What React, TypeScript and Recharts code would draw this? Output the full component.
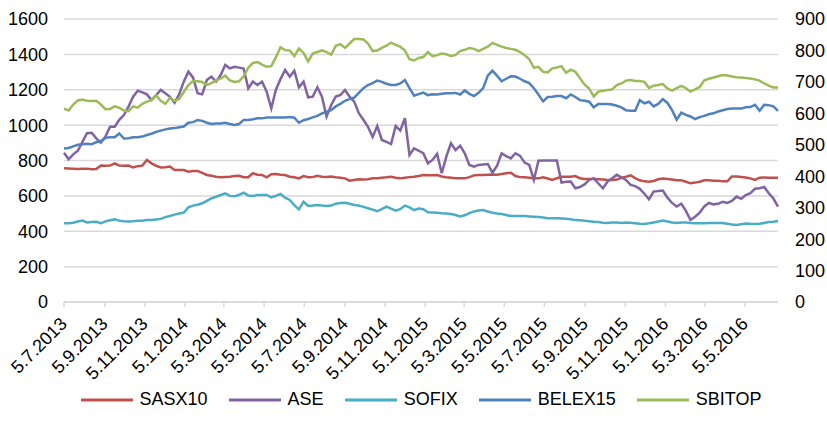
import { LineChart, Line, XAxis, YAxis, CartesianGrid, Legend } from "recharts";

document.body.style.margin = "0";

const FONT = "'Liberation Sans', Arial, sans-serif";
const GRID = "#d9d9d9";

// weekly closes (Fridays), first one on 5.7.2013
const firstDate = "5.7.2013";
const tickLabels = [
    "5.7.2013", "5.9.2013", "5.11.2013", "5.1.2014", "5.3.2014", "5.5.2014",
    "5.7.2014", "5.9.2014", "5.11.2014", "5.1.2015", "5.3.2015", "5.5.2015",
    "5.7.2015", "5.9.2015", "5.11.2015", "5.1.2016", "5.3.2016", "5.5.2016",
];
const leftTicks = [0, 200, 400, 600, 800, 1000, 1200, 1400, 1600];
const rightTicks = [0, 100, 200, 300, 400, 500, 600, 700, 800, 900];

// left axis
const sasx10 = [
    756, 755, 754, 752, 754, 754, 750, 752, 771, 770, 771, 784, 771, 770, 771, 761, 768, 771, 803, 784, 770, 761, 762, 766, 746, 746, 746,
    737, 740, 741, 730, 718, 714, 708, 705, 707, 708, 712, 714, 705, 705, 728, 720, 718, 705, 722, 724, 720, 718, 708, 705, 699, 712,
    705, 706, 713, 708, 707, 709, 705, 703, 699, 686, 690, 694, 692, 694, 699, 700, 703, 705, 708, 702, 699, 703, 706, 708, 712, 718,
    716, 716, 718, 710, 705, 702, 699, 700, 699, 706, 716, 718, 718, 720, 721, 720, 724, 728, 731, 712, 706, 705, 703, 700, 699, 705,
    698, 690, 700, 708, 708, 708, 712, 700, 696, 696, 696, 694, 692, 690, 690, 692, 702, 708, 716, 700, 688, 682, 680, 684, 694, 698,
    696, 693, 688, 688, 680, 671, 675, 680, 688, 688, 686, 686, 682, 682, 710, 710, 707, 704, 699, 690, 703, 704, 703, 703, 703,
];
const ase = [
    844, 807, 835, 855, 905, 954, 957, 925, 901, 935, 991, 991, 1030, 1057, 1104, 1161, 1195, 1185, 1174, 1142, 1170, 1199, 1180, 1160, 1127, 1174, 1246,
    1302, 1270, 1180, 1174, 1255, 1274, 1246, 1283, 1340, 1321, 1330, 1325, 1320, 1208, 1246, 1227, 1246, 1189, 1095, 1200, 1260, 1312, 1274, 1308, 1214, 1246,
    1157, 1161, 1214, 1161, 1048, 1114, 1161, 1170, 1199, 1161, 1133, 1067, 1030, 990, 933, 995, 916, 905, 893, 995, 969, 1039, 831, 869, 855, 841,
    784, 803, 837, 728, 822, 897, 859, 884, 841, 775, 765, 775, 778, 780, 731, 770, 841, 825, 812, 841, 826, 788, 775, 690, 799, 800,
    800, 800, 800, 675, 680, 681, 643, 650, 665, 690, 700, 670, 643, 681, 700, 719, 705, 690, 662, 655, 640, 612, 581, 624, 628, 630,
    590, 560, 540, 556, 515, 464, 482, 505, 540, 560, 552, 555, 567, 560, 572, 596, 583, 605, 615, 640, 643, 650, 615, 585, 539,
];
const sofix = [
    445, 445, 448, 455, 460, 450, 452, 453, 445, 456, 462, 467, 460, 456, 455, 456, 460, 460, 463, 463, 467, 470, 480, 486, 494, 500, 505,
    535, 545, 550, 558, 572, 586, 595, 605, 614, 600, 598, 605, 618, 602, 600, 605, 605, 605, 592, 600, 611, 590, 577, 548, 524, 567,
    543, 545, 548, 545, 543, 545, 556, 560, 561, 555, 548, 545, 538, 530, 522, 514, 525, 539, 528, 516, 525, 545, 535, 520, 528, 525,
    507, 506, 505, 502, 500, 498, 492, 484, 490, 503, 512, 518, 520, 512, 505, 501, 498, 492, 486, 486, 486, 486, 484, 482, 480, 478,
    474, 474, 474, 472, 470, 468, 463, 462, 460, 457, 454, 452, 448, 446, 449, 449, 447, 450, 448, 445, 442, 441, 445, 450, 455, 460,
    455, 450, 447, 449, 450, 447, 445, 445, 445, 446, 447, 447, 446, 442, 438, 436, 440, 444, 442, 441, 442, 447, 452, 454, 458,
];
// right axis
const belex15 = [
    488, 490, 495, 500, 502, 503, 502, 508, 512, 522, 524, 524, 536, 520, 521, 524, 524, 526, 531, 535, 541, 545, 549, 552, 553, 556, 558,
    570, 572, 579, 576, 570, 566, 568, 568, 570, 566, 563, 566, 579, 579, 581, 584, 584, 587, 587, 587, 587, 587, 588, 586, 570, 578,
    582, 587, 592, 600, 605, 610, 622, 630, 640, 645, 650, 665, 680, 690, 696, 704, 700, 694, 690, 690, 695, 706, 680, 656, 661, 666,
    658, 661, 660, 662, 664, 664, 665, 660, 673, 662, 655, 665, 680, 720, 736, 720, 702, 710, 718, 717, 710, 702, 696, 680, 660, 638,
    652, 653, 655, 655, 648, 660, 652, 642, 640, 637, 619, 630, 630, 630, 628, 624, 619, 610, 608, 608, 642, 632, 637, 622, 630, 645,
    633, 610, 580, 602, 595, 590, 582, 588, 592, 597, 600, 606, 610, 614, 615, 615, 615, 619, 620, 627, 608, 627, 626, 622, 608,
];
const sbitop = [
    615, 609, 628, 641, 644, 640, 639, 640, 628, 613, 614, 622, 618, 609, 607, 622, 618, 630, 637, 643, 657, 640, 630, 649, 640, 646, 668,
    690, 703, 702, 700, 690, 696, 705, 710, 720, 705, 700, 702, 718, 745, 760, 763, 755, 748, 750, 778, 810, 801, 800, 782, 806, 792,
    765, 790, 795, 800, 795, 786, 815, 820, 808, 822, 836, 836, 835, 822, 798, 800, 808, 815, 825, 818, 812, 800, 772, 768, 776, 779,
    795, 782, 785, 790, 788, 782, 786, 798, 802, 808, 805, 798, 805, 812, 824, 818, 812, 808, 805, 802, 795, 785, 772, 745, 748, 732,
    730, 743, 746, 750, 729, 739, 732, 712, 692, 679, 653, 669, 672, 674, 676, 690, 695, 704, 706, 703, 703, 700, 681, 688, 690, 693,
    679, 672, 680, 687, 680, 669, 676, 684, 705, 710, 714, 718, 722, 720, 717, 715, 714, 712, 711, 708, 704, 695, 688, 682, 682,
];

const series = [
    { key: "SASX10", color: "#C0504D", axis: "left" },
    { key: "ASE", color: "#8064A2", axis: "left" },
    { key: "SOFIX", color: "#4BACC6", axis: "left" },
    { key: "BELEX15", color: "#4F81BD", axis: "right" },
    { key: "SBITOP", color: "#9BBB59", axis: "right" },
];

const DAY = 86400000;
function parseDate(s: string) {
    const [d, m, y] = s.split(".").map(Number);
    return Date.UTC(y, m - 1, d);
}
const t0 = parseDate(firstDate);
const tickDays = tickLabels.map((l) => Math.round((parseDate(l) - t0) / DAY));

const data = sasx10.map((v, i) => ({
    day: i * 7,
    SASX10: v,
    ASE: ase[i],
    SOFIX: sofix[i],
    BELEX15: belex15[i],
    SBITOP: sbitop[i],
}));

function DateTick({ x, y, payload }: any) {
    const idx = tickDays.indexOf(payload.value);
    const ax = x + 4;
    const ay = y + 18;
    return (
        <text
            x={ax}
            y={ay}
            transform={`rotate(-45 ${ax} ${ay})`}
            textAnchor="end"
            fill="#000"
            fontSize={18}
            fontFamily={FONT}
        >
            {tickLabels[idx]}
        </text>
    );
}

function LegendContent() {
    return (
        <div
            style={{
                display: "flex",
                justifyContent: "center",
                alignItems: "center",
                gap: 21,
                fontFamily: FONT,
                fontSize: 18,
                color: "#000",
            }}
        >
            {series.map((s) => (
                <div
                    key={s.key}
                    style={{ display: "flex", alignItems: "center", gap: 7 }}
                >
                    <svg width={52} height={4}>
                        <line
                            x1={0}
                            y1={2}
                            x2={52}
                            y2={2}
                            stroke={s.color}
                            strokeWidth={3}
                        />
                    </svg>
                    <span>{s.key}</span>
                </div>
            ))}
        </div>
    );
}

const tickStyle = { fill: "#000", fontSize: 18, fontFamily: FONT };

export default function App() {
    return (
        <LineChart
            width={827}
            height={422}
            data={data}
            margin={{ top: 19, right: 0, bottom: 10, left: 0 }}
        >
            <CartesianGrid
                vertical={false}
                yAxisId="left"
                stroke={GRID}
                strokeWidth={1.5}
            />
            <XAxis
                dataKey="day"
                type="number"
                domain={[0, data[data.length - 1].day]}
                ticks={tickDays}
                interval={0}
                tick={<DateTick />}
                tickSize={5}
                tickMargin={0}
                tickLine={{ stroke: GRID, strokeWidth: 1.5 }}
                axisLine={{ stroke: GRID, strokeWidth: 1.5 }}
                height={80}
            />
            <YAxis
                yAxisId="left"
                domain={[0, 1600]}
                ticks={leftTicks}
                interval={0}
                width={64}
                axisLine={false}
                tickLine={false}
                tickSize={0}
                tickMargin={16}
                tick={tickStyle}
            />
            <YAxis
                yAxisId="right"
                orientation="right"
                domain={[0, 900]}
                ticks={rightTicks}
                interval={0}
                width={49}
                axisLine={false}
                tickLine={false}
                tickSize={0}
                tickMargin={17}
                tick={tickStyle}
            />
            <Legend
                verticalAlign="bottom"
                height={30}
                content={<LegendContent />}
                wrapperStyle={{ left: 64, width: 714, bottom: 3 }}
            />
            {series.map((s) => (
                <Line
                    key={s.key}
                    yAxisId={s.axis}
                    type="linear"
                    dataKey={s.key}
                    stroke={s.color}
                    strokeWidth={2.5}
                    dot={false}
                    isAnimationActive={false}
                />
            ))}
        </LineChart>
    );
}
